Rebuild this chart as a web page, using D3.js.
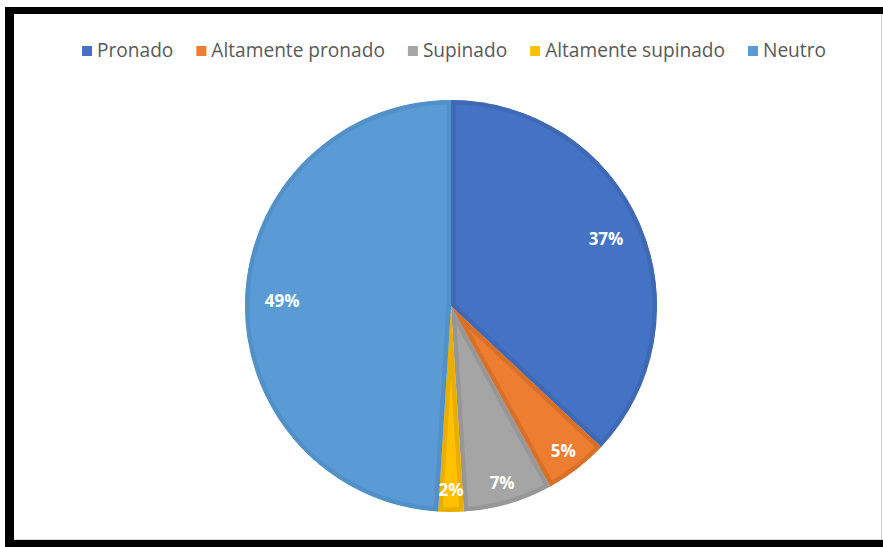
<!DOCTYPE html>
<html><head><meta charset="utf-8">
<script src="https://cdn.jsdelivr.net/npm/d3@7"></script>
<style>html,body{margin:0;padding:0;background:#fff;overflow:hidden}</style>
</head><body>
<svg id="chart" width="883" height="547"></svg>
<script>
const categories = ["Pronado", "Altamente pronado", "Supinado", "Altamente supinado", "Neutro"];
const values = [37, 5, 7, 2, 49];
const labels = ["37%", "5%", "7%", "2%", "49%"];
const colors = ["#4472C4", "#ED7D31", "#A5A5A5", "#FFC000", "#5B9BD5"];
const strokes = ["#3F69B5", "#D9702A", "#979797", "#E8AE00", "#5290C8"];

const svg = d3.select("#chart");
// frame
svg.append("rect").attr("x",0).attr("y",0).attr("width",883).attr("height",547).attr("fill","#fff");
svg.append("rect").attr("x",5).attr("y",7).attr("width",878).attr("height",540).attr("fill","#000");
svg.append("rect").attr("x",14).attr("y",14).attr("width",869).attr("height",526).attr("fill","#fff");
svg.append("line").attr("x1",881.5).attr("x2",881.5).attr("y1",14).attr("y2",540).attr("stroke","#cfcfcf");
svg.append("line").attr("x1",14).attr("x2",883).attr("y1",539.5).attr("y2",539.5).attr("stroke","#dcdcdc");

const cx = 451, cy = 306, R = 206;
const pie = d3.pie().value(d => d).sort(null);
const arcs = pie(values);
const arc = d3.arc().innerRadius(0).outerRadius(R);
const g = svg.append("g").attr("transform", `translate(${cx},${cy})`);

const clip = svg.append("defs");
arcs.forEach((a,i)=>{
  clip.append("clipPath").attr("id","c"+i).append("path").attr("d", arc(a));
});
g.selectAll("path.slice").data(arcs).join("path")
  .attr("class","slice")
  .attr("d", arc)
  .attr("fill", (d,i)=>colors[i])
  .attr("stroke", (d,i)=>strokes[i])
  .attr("stroke-width", 9)
  .attr("clip-path", (d,i)=>`url(#c${i})`);

const labelArc = d => {
  const r = d.data < 10 ? 0.89*R : 0.82*R;
  return d3.arc().innerRadius(r).outerRadius(r).centroid(d);
};
g.selectAll("text.lbl").data(arcs).join("text")
  .attr("class","lbl")
  .attr("transform", d => `translate(${labelArc(d)})`)
  .attr("text-anchor","middle").attr("dominant-baseline","central")
  .attr("font-family","'Open Sans', sans-serif").attr("font-weight","bold").attr("font-size",17)
  .attr("fill","#fff")
  .text((d,i)=>labels[i]);

// legend
const lg = svg.append("g");
const items = lg.selectAll("g").data(categories).join("g");
items.append("rect").attr("width",10).attr("height",10).attr("y",-11).attr("fill",(d,i)=>colors[i]);
const txt = items.append("text").attr("x",15).attr("y",0)
  .attr("font-family","'Open Sans', sans-serif").attr("font-size",16).attr("fill","#595959")
  .text(d=>d);
const gap = 23, target = 744;
let tw = 0;
txt.each(function(){ tw += this.getComputedTextLength(); });
const fs = 16 * (target - gap*4 - 15*5) / tw;
txt.attr("font-size", fs);
let widths = [];
txt.each(function(){ widths.push(15 + this.getComputedTextLength()); });
const total = d3.sum(widths) + gap*(widths.length-1);
let x0 = 454 - total/2;
items.each(function(d,i){
  d3.select(this).attr("transform",`translate(${x0},57)`);
  x0 += widths[i] + gap;
});
</script>
</body></html>
